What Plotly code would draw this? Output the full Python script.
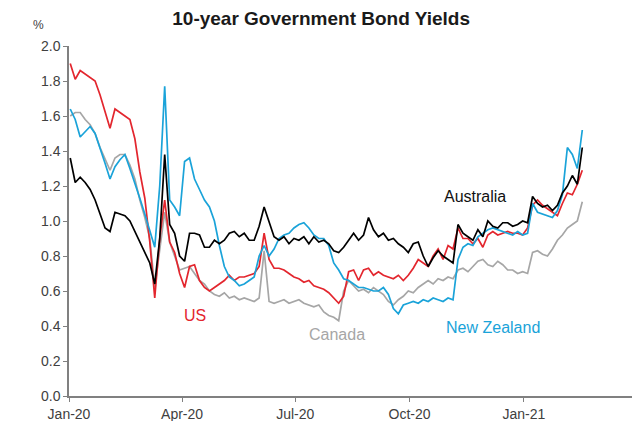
import pandas as pd
import plotly.graph_objects as go

# Observation dates (every 4 days, Jan 2020 - Feb 2021)
dates = pd.date_range("2020-01-02", periods=104, freq="4D")

us = [1.90, 1.81, 1.86, 1.84, 1.82, 1.80, 1.72, 1.62, 1.53, 1.64,
      1.62, 1.60, 1.58, 1.47, 1.28, 1.13, 0.88, 0.56, 0.90, 1.12,
      0.88, 0.82, 0.70, 0.62, 0.74, 0.75, 0.66, 0.62, 0.60, 0.62,
      0.64, 0.66, 0.69, 0.66, 0.68, 0.68, 0.69, 0.70, 0.74, 0.93,
      0.78, 0.73, 0.73, 0.72, 0.70, 0.68, 0.67, 0.65, 0.66, 0.63,
      0.62, 0.61, 0.59, 0.56, 0.53, 0.57, 0.71, 0.72, 0.66, 0.72,
      0.73, 0.69, 0.71, 0.69, 0.68, 0.67, 0.69, 0.66, 0.69, 0.73,
      0.78, 0.76, 0.74, 0.80, 0.84, 0.78, 0.86, 0.84, 0.96, 0.90,
      0.90, 0.87, 0.90, 0.85, 0.92, 0.94, 0.92, 0.93, 0.94, 0.93,
      0.93, 0.92, 0.96, 1.09, 1.12, 1.09, 1.07, 1.05, 1.03, 1.10,
      1.16, 1.15, 1.21, 1.29]

australia = [1.36, 1.22, 1.25, 1.22, 1.18, 1.12, 1.04, 0.96, 0.94, 1.05,
             1.04, 1.03, 1.00, 0.94, 0.87, 0.82, 0.76, 0.64, 0.90, 1.38,
             0.98, 0.93, 0.80, 0.77, 0.93, 0.93, 0.92, 0.85, 0.85, 0.89,
             0.87, 0.89, 0.93, 0.94, 0.91, 0.93, 0.89, 0.89, 0.97, 1.08,
             1.00, 0.91, 0.89, 0.91, 0.87, 0.90, 0.89, 0.91, 0.87, 0.91,
             0.88, 0.89, 0.87, 0.83, 0.82, 0.85, 0.89, 0.93, 0.89, 0.92,
             1.02, 0.95, 0.91, 0.93, 0.89, 0.90, 0.87, 0.85, 0.82, 0.87,
             0.88, 0.80, 0.74, 0.79, 0.83, 0.80, 0.78, 0.76, 0.98, 0.93,
             0.91, 0.89, 0.95, 0.91, 1.00, 0.97, 0.96, 0.99, 0.99, 0.97,
             0.98, 1.00, 0.99, 1.14, 1.10, 1.08, 1.09, 1.06, 1.09, 1.16,
             1.20, 1.26, 1.21, 1.42]

canada = [1.60, 1.62, 1.62, 1.58, 1.55, 1.50, 1.42, 1.35, 1.29, 1.36,
          1.38, 1.38, 1.32, 1.24, 1.12, 1.02, 0.90, 0.62, 0.85, 1.05,
          0.88, 0.80, 0.72, 0.73, 0.74, 0.70, 0.66, 0.64, 0.60, 0.58,
          0.57, 0.59, 0.56, 0.57, 0.55, 0.56, 0.55, 0.54, 0.56, 0.83,
          0.54, 0.53, 0.54, 0.55, 0.53, 0.54, 0.55, 0.53, 0.52, 0.51,
          0.52, 0.48, 0.46, 0.45, 0.43, 0.60, 0.66, 0.63, 0.60, 0.61,
          0.59, 0.62, 0.60, 0.58, 0.54, 0.52, 0.55, 0.57, 0.60, 0.59,
          0.62, 0.64, 0.66, 0.64, 0.67, 0.66, 0.68, 0.67, 0.72, 0.73,
          0.71, 0.74, 0.77, 0.78, 0.75, 0.74, 0.77, 0.75, 0.72, 0.72,
          0.70, 0.71, 0.70, 0.82, 0.83, 0.81, 0.80, 0.84, 0.89, 0.92,
          0.96, 0.98, 1.00, 1.11]

new_zealand = [1.64, 1.58, 1.48, 1.51, 1.54, 1.50, 1.42, 1.33, 1.24, 1.31,
               1.35, 1.38, 1.30, 1.22, 1.13, 1.04, 0.94, 0.85, 1.20, 1.77,
               1.12, 1.08, 1.03, 1.34, 1.36, 1.24, 1.18, 1.12, 1.08, 1.00,
               0.86, 0.74, 0.68, 0.66, 0.63, 0.64, 0.66, 0.68, 0.80, 0.86,
               0.80, 0.84, 0.90, 0.92, 0.93, 0.96, 0.98, 0.99, 0.96, 0.92,
               0.90, 0.90, 0.86, 0.76, 0.72, 0.67, 0.66, 0.64, 0.62, 0.62,
               0.61, 0.60, 0.60, 0.62, 0.58, 0.50, 0.47, 0.52, 0.53, 0.54,
               0.53, 0.55, 0.54, 0.56, 0.55, 0.54, 0.56, 0.55, 0.78, 0.85,
               0.87, 0.86, 0.91, 0.93, 0.95, 0.96, 0.95, 0.94, 0.93, 0.92,
               0.94, 0.92, 0.93, 1.10, 1.05, 1.04, 1.03, 1.02, 1.06, 1.15,
               1.42, 1.38, 1.30, 1.52]

tick_dates = ["2020-01-01", "2020-04-01", "2020-07-01", "2020-10-01", "2021-01-01"]
tick_labels = ["Jan-20", "Apr-20", "Jul-20", "Oct-20", "Jan-21"]
y_ticks = [0.0, 0.2, 0.4, 0.6, 0.8, 1.0, 1.2, 1.4, 1.6, 1.8, 2.0]

series = [
    ("Canada", canada, "#A6A6A6"),
    ("US", us, "#E3262E"),
    ("New Zealand", new_zealand, "#1AA3D9"),
    ("Australia", australia, "#000000"),
]

fig = go.Figure()
for name, vals, col in series:
    fig.add_trace(go.Scatter(x=dates, y=vals, mode="lines", name=name,
                             line=dict(color=col, width=1.7)))

font = "Liberation Sans, Arial, sans-serif"
labels = [
    ("Australia", "2020-11-23", 1.14, "#111111"),
    ("US", "2020-04-11", 0.46, "#E3262E"),
    ("Canada", "2020-08-04", 0.35, "#A6A6A6"),
    ("New Zealand", "2020-12-07", 0.39, "#1AA3D9"),
]
for txt, xd, yv, col in labels:
    fig.add_annotation(x=xd, y=yv, text=txt, showarrow=False,
                       font=dict(family=font, size=16, color=col))

fig.add_annotation(x=-0.055, y=1.06, xref="paper", yref="paper", text="%",
                   xanchor="center", yanchor="middle", showarrow=False,
                   font=dict(family=font, size=12, color="#404040"))

fig.update_layout(
    width=643, height=421,
    margin=dict(l=61, r=19, t=38, b=33),
    paper_bgcolor="white", plot_bgcolor="white",
    showlegend=False,
    font=dict(family=font, size=14, color="#404040"),
    title=dict(text="<b>10-year Government Bond Yields</b>", x=0.487, xanchor="center",
               y=0.976, yanchor="middle",
               font=dict(family=font, size=19, color="#1a1a1a")),
)
fig.update_xaxes(range=["2020-01-01", "2021-03-29"], tickvals=tick_dates, ticktext=tick_labels,
                 showline=True, linecolor="#808080", linewidth=1.5, showgrid=False,
                 ticks="outside", ticklen=4, tickcolor="#808080", zeroline=False,
                 automargin=False, tickfont=dict(size=14, color="#404040"))
fig.update_yaxes(range=[0, 2.0], tickvals=y_ticks, tickformat=".1f",
                 showline=True, linecolor="#808080", linewidth=1.5, showgrid=False,
                 ticks="outside", ticklen=4, tickcolor="#808080", zeroline=False,
                 automargin=False, tickfont=dict(size=14, color="#404040"))

fig.write_html("out.html", config={"displayModeBar": False})
